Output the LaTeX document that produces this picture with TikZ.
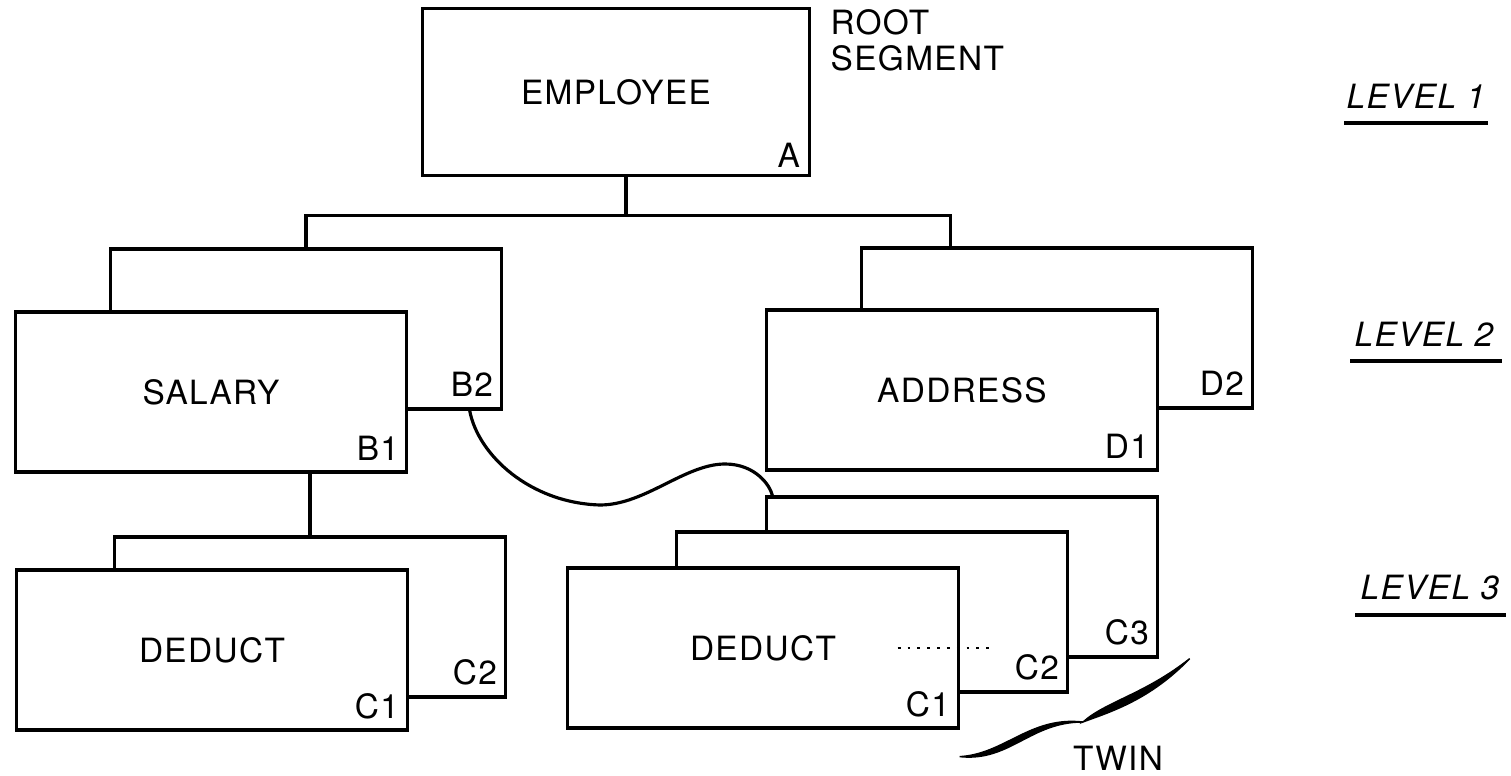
\documentclass[tikz,border=0pt]{standalone}
\usepackage{fontspec}
\setmainfont{TeX Gyre Heros}[LetterSpace=4]
\usetikzlibrary{positioning, calc}

\begin{document}
\begin{tikzpicture}[
    x=0.01cm, y=-0.01cm,
    seg/.style={draw, line width=0.9pt, fill=white, minimum width=3.9cm, minimum height=1.6cm, inner sep=0pt, font=\fontsize{9.5}{11}\selectfont},
    code/.style={anchor=south east, inner sep=0pt, font=\fontsize{9.5}{11}\selectfont},
    note/.style={inner sep=0pt, font=\fontsize{9.5}{10.2}\selectfont},
    lvl/.style={inner sep=0pt, font=\fontsize{9.5}{11}\selectfont\itshape},
    link/.style={line width=0.9pt},
    uline/.style={line width=1.1pt}
]
    \useasboundingbox[fill=white] (0,0) rectangle (1511,776);

    % root segment
    \node[seg, minimum width=3.86cm, minimum height=1.67cm] (emp) at (616,92) {EMPLOYEE};
    \node[code] (empcode) at ($(emp.south east)+(-10,-9)$) {A};
    \node[note, anchor=north west, align=left] (rootlbl) at (830,9) {ROOT\\SEGMENT};

    % level 2
    \node[seg] (b2) at (306,329) {};
    \node[seg] (b1) at ($(b2)+(-95,63)$) {SALARY};
    \node[code] (b2code) at ($(b2.south east)+(-9,-13)$) {B2};
    \node[code] (b1code) at ($(b1.south east)+(-8,-12)$) {B1};
    \node[seg] (d2) at (1057,328) {};
    \node[seg] (d1) at ($(d2)+(-95,62)$) {ADDRESS};
    \node[code] (d2code) at ($(d2.south east)+(-9,-13)$) {D2};
    \node[code] (d1code) at ($(d1.south east)+(-9,-12)$) {D1};

    % level 3
    \node[seg] (c2l) at (310,617) {};
    \node[seg] (c1l) at ($(c2l)+(-98,33)$) {DEDUCT};
    \node[code] (c2lcode) at ($(c2l.south east)+(-9,-13)$) {C2};
    \node[code] (c1lcode) at ($(c1l.south east)+(-9,-12)$) {C1};
    \node[seg] (c3r) at (962,577) {};
    \node[seg] (c2r) at ($(c3r)+(-90,35)$) {};
    \node[seg] (c1r) at ($(c2r)+(-109,36)$) {DEDUCT};
    \node[code] (c3rcode) at ($(c3r.south east)+(-9,-13)$) {C3};
    \node[code] (c2rcode) at ($(c2r.south east)+(-9,-13)$) {C2};
    \node[code] (c1rcode) at ($(c1r.south east)+(-9,-12)$) {C1};

    % hierarchy lines
    \coordinate (bus) at ($(emp.south)+(10,38)$);
    \coordinate (dtap) at ($(d2.north west)+(90,0)$);
    \draw[link] (emp.south -| bus) -- (bus);
    \draw[link] (b2.north) |- (bus) -| (dtap);
    \draw[link] (b1.south -| c2l.north) -- (c2l.north);

    % twin pointer
    \coordinate (twinA) at ($(b2.south east)+(-33,0)$);
    \coordinate (twinB) at ($(c3r.north west)+(7,0)$);
    \draw[link] (twinA) .. controls (478,455) and (530,503) .. (600,505)
        .. controls (645,505) and (685,464) .. (725,464)
        .. controls (755,464) and (770,485) .. (twinB);

    \coordinate (dotA) at ($(c1r.east)+(-62,0)$);
    \coordinate (dotB) at ($(c1r.east)+(36,0)$);
    \draw[dotted, line width=0.8pt] (dotA) -- (dotB);

    % brace
    \coordinate (twinL) at ($(c1r.south east)+(0,27)$);
    \coordinate (twinK) at (1083,722);
    \coordinate (twinR) at ($(c3r.south east)+(31,0)$);
    \filldraw[line width=0.4pt] (twinL) .. controls (1010,762) and (1030,722) .. (twinK)
        .. controls (1030,716) and (1005,754) .. (twinL) -- cycle;
    \filldraw[line width=0.4pt] (twinK) .. controls (1110,712) and (1150,700) .. (twinR)
        .. controls (1145,694) and (1105,702) .. (twinK) -- cycle;
    \node[note] (twin) at (1118,758) {TWIN};

    % levels
    \node[lvl] (lvl1) at (1416,96) {LEVEL 1};
    \node[lvl] (lvl2) at (1424,334) {LEVEL 2};
    \node[lvl] (lvl3) at (1430,588) {LEVEL 3};
    \draw[uline] ($(lvl1.south west)+(-2,14)$) -- ($(lvl1.south east)+(2,14)$);
    \draw[uline] ($(lvl2.south west)+(-4,14)$) -- ($(lvl2.south east)+(8,14)$);
    \draw[uline] ($(lvl3.south west)+(-5,14)$) -- ($(lvl3.south east)+(6,14)$);
\end{tikzpicture}
\end{document}
